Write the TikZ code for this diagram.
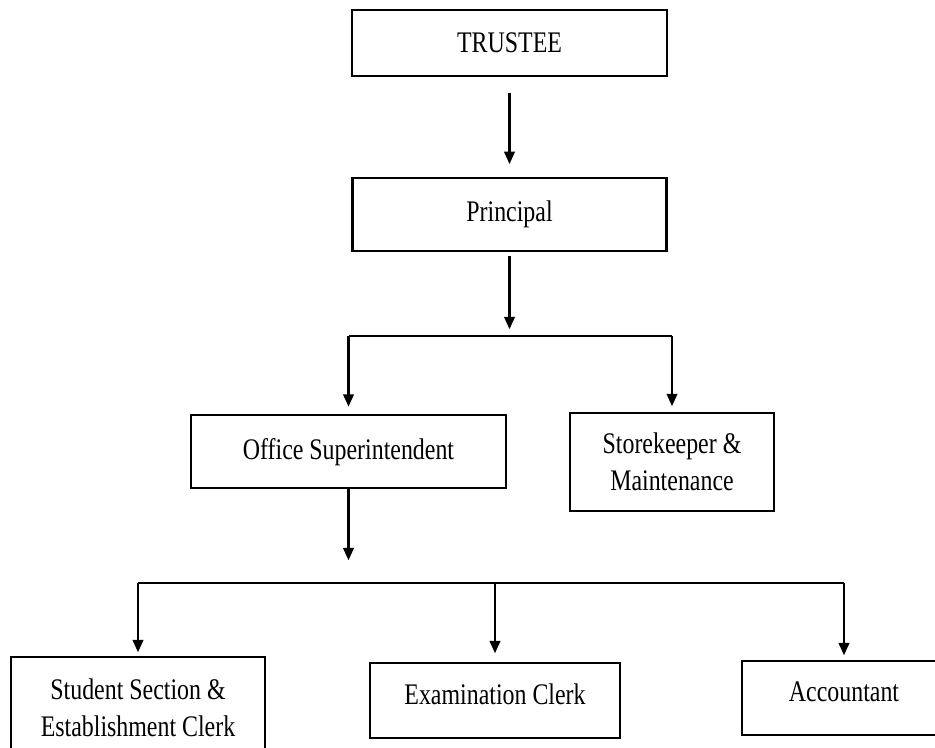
\documentclass[tikz,border=0pt]{standalone}
\usepackage{fontspec}
\setmainfont{Liberation Serif}[FakeStretch=0.8]
\usetikzlibrary{positioning, arrows.meta}

\begin{document}
\begin{tikzpicture}[
    box/.style={
        draw,
        line width=1.2pt,
        align=center,
        font=\fontsize{17}{21}\selectfont
    },
    arrow/.style={
        -{Triangle[length=7pt, width=6pt]},
        line width=1.2pt
    },
    bar/.style={
        line width=1.2pt
    }
]

\clip (0,0) rectangle (18.7,-14.96);

\node[box, minimum width=6.3cm, minimum height=1.32cm] (trustee) at (10.19,-0.86)
    {TRUSTEE};

\node[box, minimum width=6.28cm, minimum height=1.46cm, below=2cm of trustee] (principal)
    {Principal};

\node[box, minimum width=6.3cm, minimum height=1.46cm,
      below=3.24cm of principal, xshift=-3.22cm] (office)
    {Office Superintendent};

\node[box, minimum width=4.08cm, minimum height=1.96cm,
      below=3.2cm of principal, xshift=3.25cm] (store)
    {Storekeeper \&\\Maintenance};

\node[box, minimum width=5.08cm, minimum height=2.02cm,
      below=3.34cm of office, xshift=-4.21cm] (student)
    {Student Section \&\\Establishment Clerk};

\node[box, minimum width=5cm, minimum height=1.5cm, text depth=0.25cm,
      below=3.46cm of office, xshift=2.93cm] (exam)
    {Examination Clerk};

\node[box, minimum width=4.08cm, minimum height=1.48cm, text depth=0.25cm,
      below=3.42cm of office, xshift=9.91cm] (accountant)
    {Accountant};

\coordinate[below=1.68cm of principal] (split1);
\coordinate[below=1.88cm of office] (split2);

\draw[arrow, shorten <=0.32cm, shorten >=0.26cm] (trustee) -- (principal);
\draw[arrow, shorten <=0.08cm, shorten >=0.14cm] (principal) -- (split1);

\draw[bar] (office |- split1) -- (store |- split1);
\draw[arrow, shorten >=0.15cm] (office |- split1) -- (office);
\draw[arrow, shorten >=0.12cm] (store |- split1) -- (store);

\draw[arrow, shorten >=0.46cm] (office) -- (split2);

\draw[bar] (student |- split2) -- (accountant |- split2);
\draw[arrow, shorten >=0.08cm] (student |- split2) -- (student);
\draw[arrow, shorten >=0.18cm] (exam |- split2) -- (exam);
\draw[arrow, shorten >=0.1cm] (accountant |- split2) -- (accountant);

\end{tikzpicture}
\end{document}
